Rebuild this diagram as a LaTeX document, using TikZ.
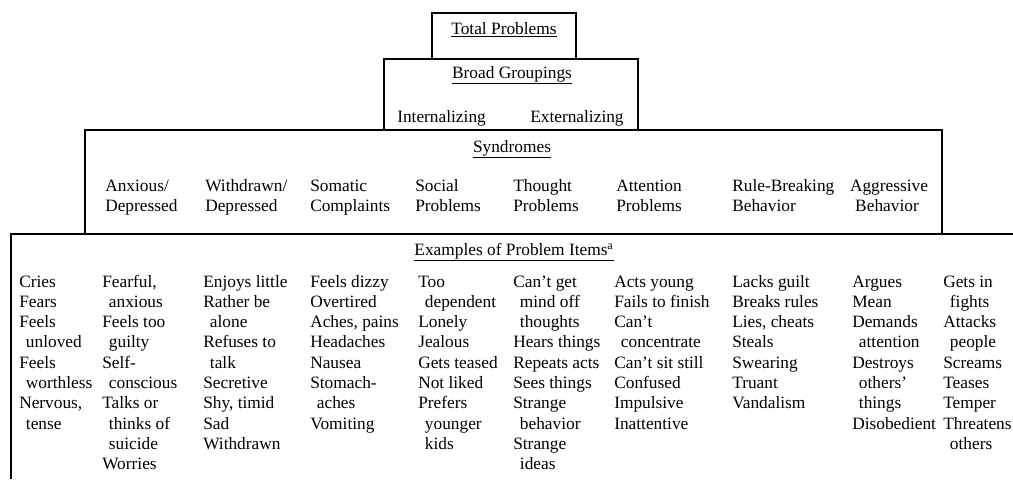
\documentclass[tikz,border=0pt]{standalone}
\usepackage{fontspec}
\setmainfont{Liberation Serif}
\usepackage{tikz}
\usetikzlibrary{positioning, calc}
\tikzset{
	boxline/.style={line width=1.1pt, line join=miter}
}
\tikzset{
	headtext/.style={font=\fontsize{13}{15}\selectfont, inner sep=0pt, anchor=base}
}
\tikzset{
	itemtext/.style={font=\fontsize{13}{15}\selectfont, inner sep=0pt, anchor=base west}
}
\newcommand{\itemind}{\hspace*{5pt}}

\begin{document}
\begin{tikzpicture}[x=0.75pt, y=-0.75pt]

			\useasboundingbox (0,0) rectangle (1013,479);

			\begin{scope}
				\coordinate (bA) at (432,13);
				\coordinate (bB) at (384,59);
				\coordinate (bC) at (85,130);
				\coordinate (bD) at (11,234);

				\draw[boxline] (bA |- bB) -- (bA) -- (576,13) -- (576,59);
				\draw[boxline] (bB |- bC) -- (bB) -- (638,59) -- (638,130);
				\draw[boxline] (bC |- bD) -- (bC) -- (942,130) -- (942,234);
				\draw[boxline] (11,479) -- (bD) -- (1013,234);
			\end{scope}

			\node[headtext] (total) at (504,34) {\underline{Total Problems}};
			\node[headtext] (broad) at (512,78) {\underline{Broad Groupings}};
			\node[itemtext] (intl) at (397,122) {Internalizing};
			\node[itemtext] (extl) at (530,122) {Externalizing};

			\begin{scope}
				\node[headtext] (synd) at (512,152) {\underline{Syndromes}};

				\node[itemtext] (s1a) at (105,191) {Anxious/};
				\node[itemtext] (s1b) at (105,211) {Depressed};
				\node[itemtext] (s2a) at (205,191) {Withdrawn/};
				\node[itemtext] (s2b) at (205,211) {Depressed};
				\node[itemtext] (s3a) at (310,191) {Somatic};
				\node[itemtext] (s3b) at (310,211) {Complaints};
				\node[itemtext] (s4a) at (415,191) {Social};
				\node[itemtext] (s4b) at (415,211) {Problems};
				\node[itemtext] (s5a) at (513,191) {Thought};
				\node[itemtext] (s5b) at (513,211) {Problems};
				\node[itemtext] (s6a) at (616,191) {Attention};
				\node[itemtext] (s6b) at (616,211) {Problems};
				\node[itemtext] (s7a) at (732,191) {Rule-Breaking};
				\node[itemtext] (s7b) at (732,211) {Behavior};
				\node[headtext] (s8a) at (889,191) {Aggressive};
				\node[headtext] (s8b) at (887,211) {Behavior};
			\end{scope}

			\begin{scope}
				\node[headtext] (exmp) at (514,255) {\underline{Examples of Problem Items\textsuperscript{a}}};

				\foreach \t [count=\i] in {Cries, Fears, Feels, \itemind unloved, Feels,
						\itemind worthless, {Nervous,}, \itemind tense}
					\node[itemtext] (c1-\i) at (19,{287+20.3*(\i-1)}) {\t};
				\foreach \t [count=\i] in {{Fearful,}, \itemind anxious, Feels too, \itemind guilty,
						Self-, \itemind conscious, Talks or, \itemind thinks of, \itemind suicide, Worries}
					\node[itemtext] (c2-\i) at (102,{287+20.3*(\i-1)}) {\t};
				\foreach \t [count=\i] in {Enjoys little, Rather be, \itemind alone, Refuses to,
						\itemind talk, Secretive, {Shy, timid}, Sad, Withdrawn}
					\node[itemtext] (c3-\i) at (203,{287+20.3*(\i-1)}) {\t};
				\foreach \t [count=\i] in {Feels dizzy, Overtired, {Aches, pains}, Headaches, Nausea,
						Stomach-, \itemind aches, Vomiting}
					\node[itemtext] (c4-\i) at (310,{287+20.3*(\i-1)}) {\t};
				\foreach \t [count=\i] in {Too, \itemind dependent, Lonely, Jealous, Gets teased,
						Not liked, Prefers, \itemind younger, \itemind kids}
					\node[itemtext] (c5-\i) at (418,{287+20.3*(\i-1)}) {\t};
				\foreach \t [count=\i] in {Can't get, \itemind mind off, \itemind thoughts, Hears things,
						Repeats acts, Sees things, Strange, \itemind behavior, Strange, \itemind ideas}
					\node[itemtext] (c6-\i) at (513,{287+20.3*(\i-1)}) {\t};
				\foreach \t [count=\i] in {Acts young, Fails to finish, Can't, \itemind concentrate,
						Can't sit still, Confused, Impulsive, Inattentive}
					\node[itemtext] (c7-\i) at (614,{287+20.3*(\i-1)}) {\t};
				\foreach \t [count=\i] in {Lacks guilt, Breaks rules, {Lies, cheats}, Steals, Swearing,
						Truant, Vandalism}
					\node[itemtext] (c8-\i) at (732,{287+20.3*(\i-1)}) {\t};
				\foreach \t [count=\i] in {Argues, Mean, Demands, \itemind attention, Destroys,
						\itemind others', \itemind things, Disobedient}
					\node[itemtext] (c9-\i) at (852,{287+20.3*(\i-1)}) {\t};
				\foreach \t [count=\i] in {Gets in, \itemind fights, Attacks, \itemind people, Screams,
						Teases, Temper, Threatens, \itemind others}
					\node[itemtext] (c10-\i) at (943,{287+20.3*(\i-1)}) {\t};
			\end{scope}

		\end{tikzpicture}
\end{document}
